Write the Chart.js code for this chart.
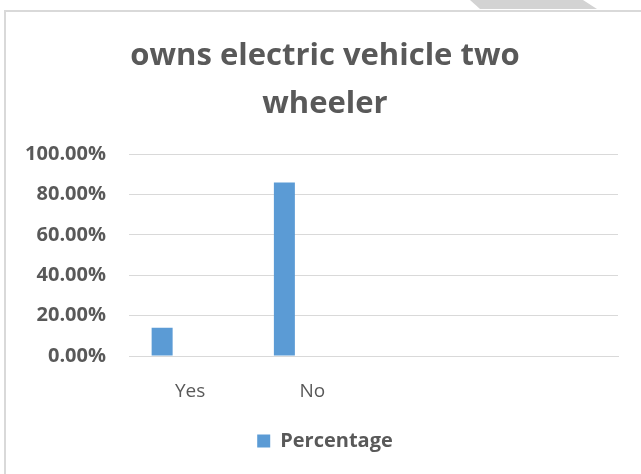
<!DOCTYPE html>
<html>
<head>
<meta charset="utf-8">
<script src="https://cdn.jsdelivr.net/npm/chart.js@4.4.1/dist/chart.umd.min.js"></script>
<style>
  html, body { margin: 0; padding: 0; background: #fff; }
  #wrap { position: relative; width: 641px; height: 474px; overflow: hidden; }
  #frame { position: absolute; left: 4px; top: 10px; width: 700px; height: 500px;
           border-left: 2px solid #d9d9d9; border-top: 2px solid #d9d9d9; }
  #tab { position: absolute; left: 470px; top: 0; width: 127px; height: 9px; background: #d3d3d3;
         clip-path: polygon(0 0, 113px 0, 127px 9px, 10px 9px); }
  canvas { position: absolute; left: 0; top: 0; }
</style>
</head>
<body>
<div id="wrap">
  <div id="frame"></div>
  <div id="tab"></div>
  <canvas id="evChart" width="641" height="474"></canvas>
</div>
<script>
const categories = ["Yes", "No", "", ""];
const percentage = [14, 86, null, null];
// empty series from the sheet, they only take up column slots
const blankA = [null, null, null, null];
const blankB = [null, null, null, null];
const yTicks = [0, 20, 40, 60, 80, 100];

const grey = "#595959";
const font = "'Open Sans', 'Liberation Sans', sans-serif";

document.addEventListener("DOMContentLoaded", () => {
    new Chart(document.getElementById("evChart"), {
        type: "bar",
        data: {
            labels: categories,
            datasets: [
                { label: "Percentage", data: percentage, backgroundColor: "#5b9bd5",
                  categoryPercentage: 0.687, barPercentage: 0.75 },
                { label: "", data: blankA, backgroundColor: "#ed7d31",
                  categoryPercentage: 0.687, barPercentage: 0.75 },
                { label: "", data: blankB, backgroundColor: "#a5a5a5",
                  categoryPercentage: 0.687, barPercentage: 0.75 }
            ]
        },
        options: {
            responsive: false,
            animation: false,
            layout: { padding: { top: 33, left: 9, right: 0, bottom: 13 } },
            plugins: {
                title: {
                    display: true,
                    text: ["owns electric vehicle two", "wheeler"],
                    color: grey,
                    font: { family: font, size: 31, weight: "bold", lineHeight: 1.52 },
                    padding: { top: 0, bottom: 27 }
                },
                legend: {
                    position: "bottom",
                    labels: {
                        color: grey,
                        boxWidth: 13,
                        boxHeight: 13,
                        font: { family: font, size: 20, weight: "bold" },
                        filter: item => item.text !== ""
                    }
                },
                tooltip: { enabled: false }
            },
            scales: {
                x: {
                    afterFit: s => { s.height = 65; },
                    grid: { display: false },
                    border: { color: "#d9d9d9", width: 1 },
                    ticks: { color: grey, padding: 16, font: { family: font, size: 19 } }
                },
                y: {
                    min: 0,
                    max: 100,
                    afterBuildTicks: s => { s.ticks = yTicks.map(v => ({ value: v })); },
                    afterFit: s => { s.width = 120; },
                    grid: { color: "#d9d9d9", drawTicks: false },
                    border: { display: false },
                    ticks: {
                        color: grey,
                        padding: 23,
                        font: { family: font, size: 20, weight: "bold" },
                        callback: v => v.toFixed(2) + "%"
                    }
                },
                // empty margin on the right of the plot
                yRight: {
                    position: "right",
                    afterFit: s => { s.width = 23; },
                    grid: { display: false },
                    border: { display: false },
                    ticks: { display: false }
                }
            }
        }
    });
});
</script>
</body>
</html>
